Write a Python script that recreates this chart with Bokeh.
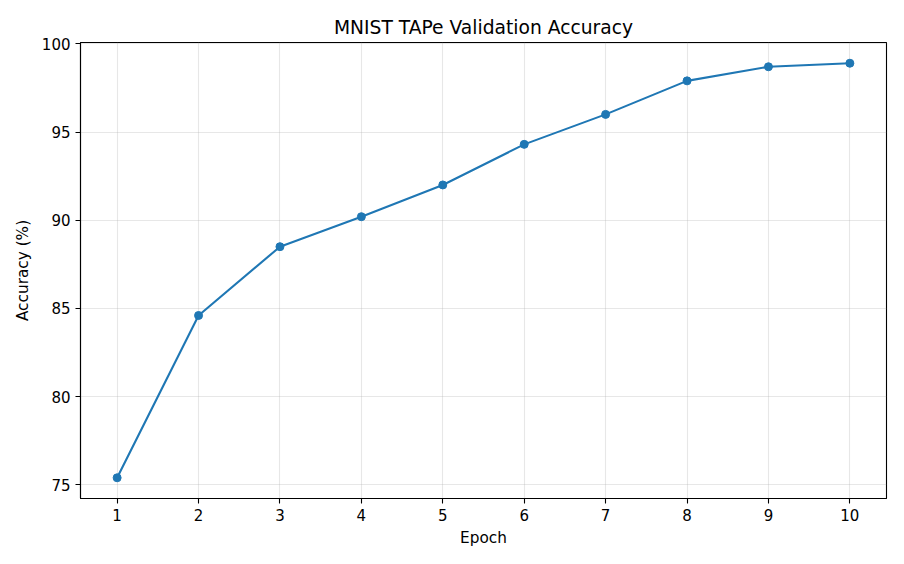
from bokeh.plotting import figure
from bokeh.models import Range1d, FixedTicker, ColumnDataSource
from bokeh.embed import file_html
from bokeh.resources import INLINE

epochs = [1, 2, 3, 4, 5, 6, 7, 8, 9, 10]
accuracy = [75.4, 84.6, 88.5, 90.2, 92.0, 94.3, 96.0, 97.9, 98.7, 98.9]
x_ticks = [1, 2, 3, 4, 5, 6, 7, 8, 9, 10]
y_ticks = [75, 80, 85, 90, 95, 100]

FONT = "DejaVu Sans"
src = ColumnDataSource(dict(x=epochs, y=accuracy))

p = figure(width=896, height=556, output_backend="svg", toolbar_location=None,
           x_range=Range1d(0.55, 10.45), y_range=Range1d(74.225, 100.075),
           min_border_left=80, min_border_right=10, min_border_top=42, min_border_bottom=58)

p.title.text = "MNIST TAPe Validation Accuracy"
p.title.text_font = FONT
p.title.text_font_size = "18.7px"
p.title.text_font_style = "normal"
p.title.align = "center"
p.title.text_color = "black"

p.line("x", "y", source=src, line_color="#1f77b4", line_width=2.1)
p.scatter("x", "y", source=src, size=8, fill_color="#1f77b4", line_color="#1f77b4")

p.xaxis.ticker = FixedTicker(ticks=x_ticks)
p.yaxis.ticker = FixedTicker(ticks=y_ticks)
p.xaxis.axis_label = "Epoch"
p.yaxis.axis_label = "Accuracy (%)"
for ax in (p.xaxis, p.yaxis):
    ax.axis_label_text_font = FONT
    ax.axis_label_text_font_size = "15.3px"
    ax.axis_label_text_font_style = "normal"
    ax.axis_label_text_color = "black"
    ax.major_label_text_font = FONT
    ax.major_label_text_font_size = "15px"
    ax.major_label_text_color = "black"
    ax.minor_tick_line_color = None
    ax.major_tick_in = 0
    ax.major_tick_out = 5
    ax.major_tick_line_color = "black"
    ax.major_tick_line_width = 1.1
    ax.axis_line_color = "black"
    ax.axis_line_width = 1.1
    ax.major_label_standoff = 5
    ax.axis_label_standoff = 5
p.yaxis.axis_label_standoff = 7
p.yaxis.major_label_orientation = "horizontal"

p.outline_line_color = "black"
p.outline_line_width = 1.1
p.outline_line_alpha = 1.0
for g in (p.xgrid, p.ygrid):
    g.grid_line_color = "#b0b0b0"
    g.grid_line_alpha = 0.3
    g.grid_line_width = 1.1

p.background_fill_color = "white"
p.border_fill_color = "white"

open("out.html", "w").write(file_html(p, INLINE))
